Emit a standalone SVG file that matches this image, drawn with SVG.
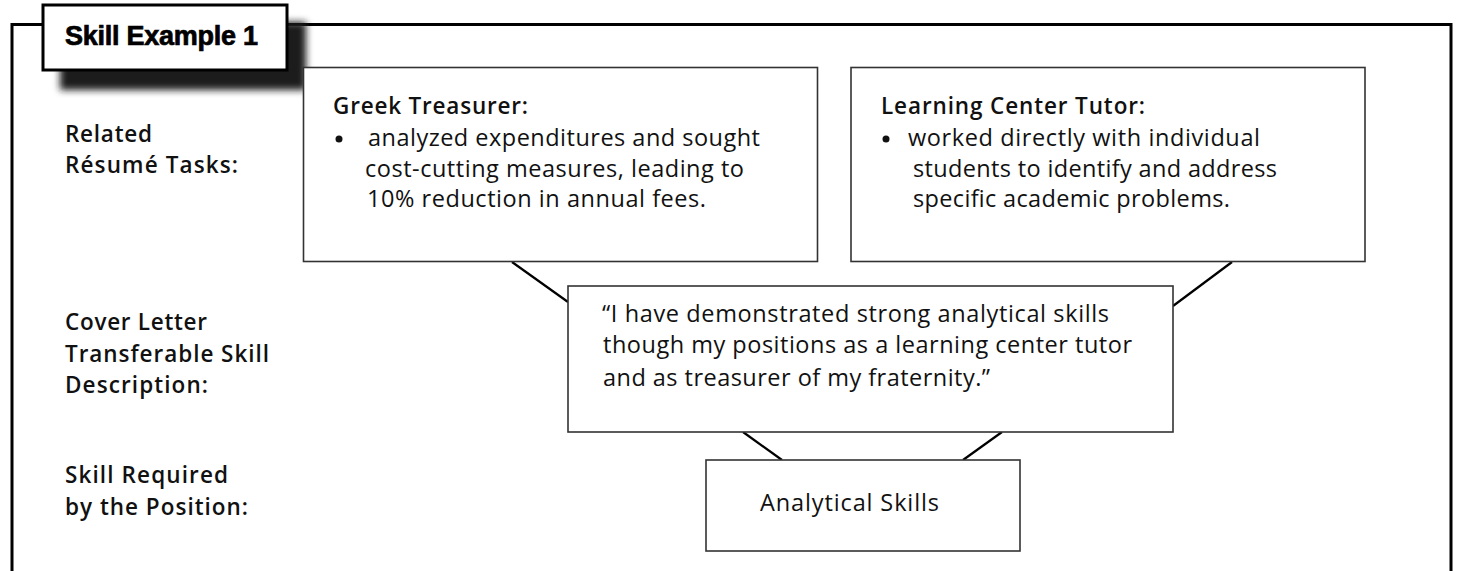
<svg xmlns="http://www.w3.org/2000/svg" width="1457" height="571" viewBox="0 0 1457 571">
<defs>
<filter id="shadow" x="-20%" y="-30%" width="140%" height="160%">
<feGaussianBlur stdDeviation="3.5"/>
</filter>
<style>
.frame{fill:none;stroke:#000;stroke-width:3}
.box{fill:#fff;stroke:#333;stroke-width:1.6}
.conn{stroke:#000;stroke-width:2.2;fill:none}
.lbl{font-family:"Open Sans","Liberation Sans",sans-serif;font-size:22.5px;font-weight:600;fill:#111}
.hd{font-family:"Open Sans","Liberation Sans",sans-serif;font-size:22.5px;font-weight:600;fill:#111}
.tx{font-family:"Open Sans","Liberation Sans",sans-serif;font-size:23.5px;fill:#111}
.title{font-family:"Liberation Sans","DejaVu Sans",sans-serif;font-size:27px;font-weight:bold;fill:#000;stroke:#000;stroke-width:0.7}
</style>
</defs>
<rect width="1457" height="571" fill="#fff"/>
<g id="outer-frame">
<rect class="frame" x="12" y="24.5" width="1439" height="600"/>
</g>
<g id="title">
<rect x="60" y="22" width="246" height="68" fill="#1a1a1a" filter="url(#shadow)"/>
<rect x="43" y="5" width="244" height="65" fill="#fff" stroke="#000" stroke-width="3"/>
<text class="title" x="65" y="45" textLength="193">Skill Example 1</text>
</g>
<g id="row-labels">
<text class="lbl" x="65" y="142" textLength="87">Related</text>
<text class="lbl" x="65" y="173" textLength="173">Résumé Tasks:</text>
<text class="lbl" x="65" y="330" textLength="142">Cover Letter</text>
<text class="lbl" x="65" y="362" textLength="204">Transferable Skill</text>
<text class="lbl" x="65" y="393" textLength="143">Description:</text>
<text class="lbl" x="65" y="483" textLength="163">Skill Required</text>
<text class="lbl" x="65" y="515" textLength="183">by the Position:</text>
</g>
<g id="connectors">
<line class="conn" x1="512" y1="262" x2="568" y2="302"/>
<line class="conn" x1="1232" y1="262" x2="1173" y2="306"/>
<line class="conn" x1="743" y1="432" x2="782" y2="460"/>
<line class="conn" x1="1002" y1="432" x2="963" y2="460"/>
</g>
<g id="greek-treasurer">
<rect class="box" x="303.5" y="67.5" width="514" height="194"/>
<text class="hd" x="333" y="114" textLength="195">Greek Treasurer:</text>
<circle cx="339" cy="139" r="3.5" fill="#111"/>
<text class="tx" x="368" y="146" textLength="392">analyzed expenditures and sought</text>
<text class="tx" x="365" y="177" textLength="379">cost-cutting measures, leading to</text>
<text class="tx" x="367" y="207" textLength="339">10% reduction in annual fees.</text>
</g>
<g id="learning-center-tutor">
<rect class="box" x="851" y="67.5" width="514" height="194"/>
<text class="hd" x="881" y="114" textLength="264">Learning Center Tutor:</text>
<circle cx="886" cy="139" r="3.5" fill="#111"/>
<text class="tx" x="908" y="146" textLength="352">worked directly with individual</text>
<text class="tx" x="913" y="177" textLength="364">students to identify and address</text>
<text class="tx" x="913" y="207" textLength="317">specific academic problems.</text>
</g>
<g id="cover-letter">
<rect class="box" x="568" y="286" width="605" height="146"/>
<text class="tx" x="602" y="322" textLength="507">“I have demonstrated strong analytical skills</text>
<text class="tx" x="603" y="353" textLength="529">though my positions as a learning center tutor</text>
<text class="tx" x="603" y="386" textLength="387">and as treasurer of my fraternity.”</text>
</g>
<g id="analytical-skills">
<rect class="box" x="706" y="460" width="314" height="91"/>
<text class="tx" x="760" y="511" textLength="179">Analytical Skills</text>
</g>
</svg>
